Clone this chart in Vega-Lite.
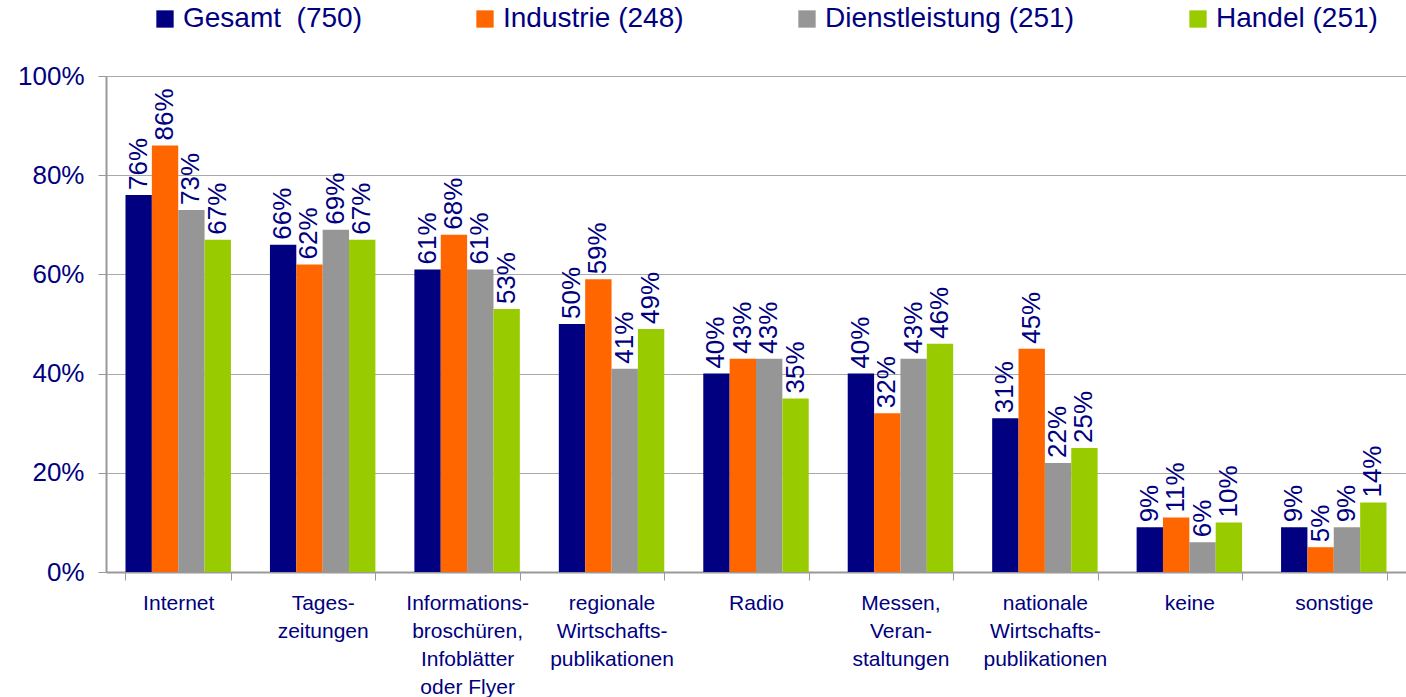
{
  "$schema": "https://vega.github.io/schema/vega-lite/v6.json",
  "width": 1300,
  "height": 496,
  "autosize": {"type": "none"},
  "padding": {"left": 106, "top": 76, "right": 0, "bottom": 125},
  "background": "white",
  "config": {
    "font": "Liberation Sans",
    "view": {"stroke": null}
  },
  "data": {
    "values": [
      {"kategorie": "Internet", "serie": "Gesamt\u00a0 (750)", "wert": 0.76},
      {"kategorie": "Internet", "serie": "Industrie (248)", "wert": 0.86},
      {"kategorie": "Internet", "serie": "Dienstleistung (251)", "wert": 0.73},
      {"kategorie": "Internet", "serie": "Handel (251)", "wert": 0.67},
      {"kategorie": "Tages-|zeitungen", "serie": "Gesamt\u00a0 (750)", "wert": 0.66},
      {"kategorie": "Tages-|zeitungen", "serie": "Industrie (248)", "wert": 0.62},
      {"kategorie": "Tages-|zeitungen", "serie": "Dienstleistung (251)", "wert": 0.69},
      {"kategorie": "Tages-|zeitungen", "serie": "Handel (251)", "wert": 0.67},
      {"kategorie": "Informations-|broschüren,|Infoblätter|oder Flyer", "serie": "Gesamt\u00a0 (750)", "wert": 0.61},
      {"kategorie": "Informations-|broschüren,|Infoblätter|oder Flyer", "serie": "Industrie (248)", "wert": 0.68},
      {"kategorie": "Informations-|broschüren,|Infoblätter|oder Flyer", "serie": "Dienstleistung (251)", "wert": 0.61},
      {"kategorie": "Informations-|broschüren,|Infoblätter|oder Flyer", "serie": "Handel (251)", "wert": 0.53},
      {"kategorie": "regionale|Wirtschafts-|publikationen", "serie": "Gesamt\u00a0 (750)", "wert": 0.50},
      {"kategorie": "regionale|Wirtschafts-|publikationen", "serie": "Industrie (248)", "wert": 0.59},
      {"kategorie": "regionale|Wirtschafts-|publikationen", "serie": "Dienstleistung (251)", "wert": 0.41},
      {"kategorie": "regionale|Wirtschafts-|publikationen", "serie": "Handel (251)", "wert": 0.49},
      {"kategorie": "Radio", "serie": "Gesamt\u00a0 (750)", "wert": 0.40},
      {"kategorie": "Radio", "serie": "Industrie (248)", "wert": 0.43},
      {"kategorie": "Radio", "serie": "Dienstleistung (251)", "wert": 0.43},
      {"kategorie": "Radio", "serie": "Handel (251)", "wert": 0.35},
      {"kategorie": "Messen,|Veran-|staltungen", "serie": "Gesamt\u00a0 (750)", "wert": 0.40},
      {"kategorie": "Messen,|Veran-|staltungen", "serie": "Industrie (248)", "wert": 0.32},
      {"kategorie": "Messen,|Veran-|staltungen", "serie": "Dienstleistung (251)", "wert": 0.43},
      {"kategorie": "Messen,|Veran-|staltungen", "serie": "Handel (251)", "wert": 0.46},
      {"kategorie": "nationale|Wirtschafts-|publikationen", "serie": "Gesamt\u00a0 (750)", "wert": 0.31},
      {"kategorie": "nationale|Wirtschafts-|publikationen", "serie": "Industrie (248)", "wert": 0.45},
      {"kategorie": "nationale|Wirtschafts-|publikationen", "serie": "Dienstleistung (251)", "wert": 0.22},
      {"kategorie": "nationale|Wirtschafts-|publikationen", "serie": "Handel (251)", "wert": 0.25},
      {"kategorie": "keine", "serie": "Gesamt\u00a0 (750)", "wert": 0.09},
      {"kategorie": "keine", "serie": "Industrie (248)", "wert": 0.11},
      {"kategorie": "keine", "serie": "Dienstleistung (251)", "wert": 0.06},
      {"kategorie": "keine", "serie": "Handel (251)", "wert": 0.10},
      {"kategorie": "sonstige", "serie": "Gesamt\u00a0 (750)", "wert": 0.09},
      {"kategorie": "sonstige", "serie": "Industrie (248)", "wert": 0.05},
      {"kategorie": "sonstige", "serie": "Dienstleistung (251)", "wert": 0.09},
      {"kategorie": "sonstige", "serie": "Handel (251)", "wert": 0.14}
    ]
  },
  "encoding": {
    "x": {
      "field": "kategorie",
      "type": "nominal",
      "sort": null,
      "scale": {"paddingInner": 0.27, "paddingOuter": 0.135},
      "axis": {
        "title": null,
        "labelAngle": 0,
        "labelExpr": "split(datum.label, '|')",
        "labelFont": "Liberation Sans",
        "labelFontSize": 21,
        "labelLineHeight": 28,
        "labelColor": "#000080",
        "labelBaseline": "top",
        "labelPadding": 12,
        "tickBand": "extent",
        "tickSize": 8,
        "tickColor": "#999999",
        "domainColor": "#999999",
        "domainWidth": 2,
        "grid": false
      }
    },
    "xOffset": {
      "field": "serie",
      "type": "nominal",
      "scale": {"domain": ["Gesamt\u00a0 (750)", "Industrie (248)", "Dienstleistung (251)", "Handel (251)"], "paddingInner": 0, "paddingOuter": 0}
    },
    "y": {
      "field": "wert",
      "type": "quantitative",
      "scale": {"domain": [0, 1], "nice": false},
      "axis": {
        "title": null,
        "values": [0, 0.2, 0.4, 0.6, 0.8, 1],
        "format": ".0%",
        "labelFont": "Liberation Sans",
        "labelFontSize": 26,
        "labelColor": "#000080",
        "labelPadding": 14,
        "tickSize": 8,
        "tickColor": "#999999",
        "domainColor": "#999999",
        "domainWidth": 2,
        "grid": true,
        "gridColor": "#aaaaaa",
        "gridWidth": 1
      }
    }
  },
  "layer": [
    {
      "mark": {"type": "bar"},
      "encoding": {
        "color": {
          "field": "serie",
          "type": "nominal",
          "scale": {
            "domain": ["Gesamt\u00a0 (750)", "Industrie (248)", "Dienstleistung (251)", "Handel (251)"],
            "range": ["#000080", "#FF6600", "#969696", "#99CC00"]
          },
          "legend": {
            "title": null,
            "orient": "none",
            "legendX": 45,
            "legendY": -71,
            "direction": "horizontal",
            "symbolType": "square",
            "symbolSize": 300,
            "symbolStrokeWidth": 0,
            "labelFont": "Liberation Sans",
            "labelFontSize": 28,
            "labelColor": "#000080",
            "labelOffset": 4,
            "columnPadding": 109,
            "labelLimit": 400
          }
        }
      }
    },
    {
      "mark": {
        "type": "text",
        "angle": 270,
        "align": "left",
        "baseline": "middle",
        "dx": 5,
        "font": "Liberation Sans",
        "fontSize": 26,
        "color": "#000080"
      },
      "encoding": {
        "text": {"field": "wert", "type": "quantitative", "format": ".0%"},
        "detail": {"field": "serie", "type": "nominal"}
      }
    }
  ]
}
